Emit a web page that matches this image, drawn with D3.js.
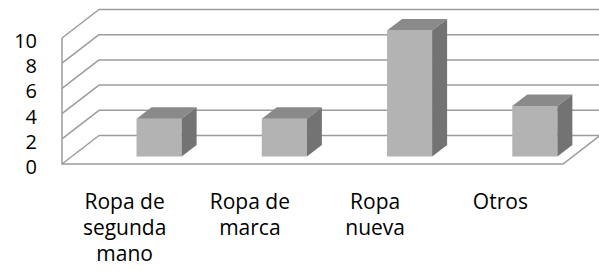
<!DOCTYPE html>
<html>
<head>
<meta charset="utf-8">
<script src="https://cdn.jsdelivr.net/npm/d3@7"></script>
<style>
    body { margin: 0; background: #fff; }
    text { font-family: "Open Sans", sans-serif; fill: #000; }
</style>
</head>
<body>
<div id="chart"></div>
<script>
const categories = [
    ["Ropa de", "segunda", "mano"],
    ["Ropa de", "marca"],
    ["Ropa", "nueva"],
    ["Otros"]
];
const values = [3, 3, 10, 4];
const yTicks = [0, 2, 4, 6, 8, 10];

const width = 599, height = 279;

const svg = d3.select("#chart")
    .append("svg")
        .attr("width", width)
        .attr("height", height);

const x = d3.scaleBand()
    .domain(d3.range(categories.length))
    .range([62, 563]);

const y = d3.scaleLinear()
    .domain([0, 10])
    .range([164, 38]);

// wall depth and bar depth (oblique offsets)
const wall = { dx: 37, dy: -28.5 };
const box = { dx: 15, dy: -11.5 };
const lift = 7.5;

const grid = svg.append("g")
    .attr("stroke", "#9c9c9c")
    .attr("stroke-width", 1.5)
    .attr("fill", "none");

// back wall gridlines
grid.selectAll(".back")
    .data(yTicks)
    .enter()
    .append("line")
        .attr("x1", x.range()[0] + wall.dx)
        .attr("x2", x.range()[1] + wall.dx)
        .attr("y1", d => y(d) + wall.dy)
        .attr("y2", d => y(d) + wall.dy);

// side wall diagonals
grid.selectAll(".side")
    .data(yTicks)
    .enter()
    .append("line")
        .attr("x1", x.range()[0])
        .attr("x2", x.range()[0] + wall.dx)
        .attr("y1", d => y(d))
        .attr("y2", d => y(d) + wall.dy);

// front axis and floor edges
grid.append("path")
    .attr("d", `M${x.range()[0]},${y(10)}V${y(0)}H${x.range()[1]}l${wall.dx},${wall.dy}`);

// y labels
svg.append("g")
    .selectAll("text")
    .data(yTicks)
    .enter()
    .append("text")
        .attr("x", 37)
        .attr("y", d => y(d) + 10)
        .attr("text-anchor", "end")
        .attr("font-size", 20)
        .text(d => d);

// bars
const bw = x.bandwidth();
const bars = svg.append("g")
    .selectAll("g")
    .data(values)
    .enter()
    .append("g");

const xl = (d, i) => x(i) + bw * 0.595;
const xr = (d, i) => x(i) + bw * 0.595 + bw * 0.36;
const yb = () => y(0) - lift;
const yt = d => y(d) - lift;

bars.append("path")
    .attr("fill", "#b3b3b3")
    .attr("d", (d, i) => `M${xl(d, i)},${yt(d)}H${xr(d, i)}V${yb()}H${xl(d, i)}Z`);

bars.append("path")
    .attr("fill", "#8a8a8a")
    .attr("d", (d, i) => `M${xl(d, i)},${yt(d)}l${box.dx},${box.dy}H${xr(d, i) + box.dx}l${-box.dx},${-box.dy}Z`);

bars.append("path")
    .attr("fill", "#737373")
    .attr("d", (d, i) => `M${xr(d, i)},${yt(d)}l${box.dx},${box.dy}V${yb() + box.dy}l${-box.dx},${-box.dy}Z`);

// category labels
svg.append("g")
    .selectAll("text")
    .data(categories)
    .enter()
    .append("text")
        .attr("text-anchor", "middle")
        .attr("font-size", 21)
        .attr("x", (d, i) => x(i) + bw / 2)
        .attr("y", 209)
    .selectAll("tspan")
    .data(d => d)
    .enter()
    .append("tspan")
        .attr("x", function () { return this.parentNode.getAttribute("x"); })
        .attr("dy", (d, i) => i === 0 ? 0 : 26)
        .text(d => d);
</script>
</body>
</html>
